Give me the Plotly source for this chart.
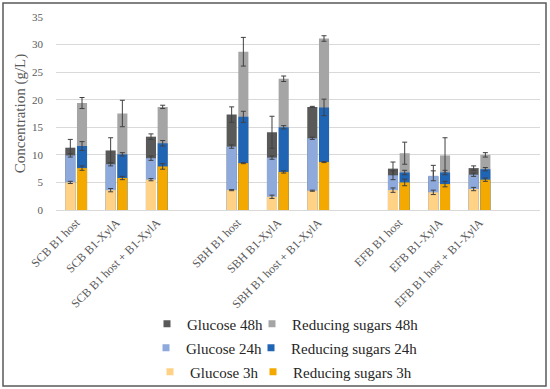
import plotly.graph_objects as go

categories = ["SCB B1 host", "SCB B1-XylA", "SCB B1 host + B1-XylA", " ",
              "SBH B1 host", "SBH B1-XylA", "SBH B1 host + B1-XylA", "  ",
              "EFB B1 host", "EFB B1-XylA", "EFB B1 host + B1-XylA"]

glucose_3h = [5.0, 3.6, 5.5, None, 3.6, 2.4, 3.5, None, 3.6, 3.2, 3.8]
glucose_3h_err = [0.2, 0.3, 0.2, None, 0.1, 0.3, 0.1, None, 0.4, 0.4, 0.3]
glucose_24h = [9.9, 8.3, 9.4, None, 11.5, 9.5, 13.0, None, 6.3, 6.2, 6.4]
glucose_24h_err = [0.3, 0.3, 0.4, None, 0.3, 0.3, 0.2, None, 0.8, 0.9, 0.3]
glucose_48h = [11.3, 10.8, 13.3, None, 17.3, 14.1, 18.7, None, 7.5, 6.1, 7.6]
glucose_48h_err = [1.5, 2.3, 0.5, None, 1.4, 2.9, 0.1, None, 1.2, 2.0, 0.4]

rs_3h = [7.6, 5.8, 7.9, None, 8.5, 6.9, 8.7, None, 5.0, 4.7, 5.5]
rs_3h_err = [0.4, 0.3, 0.5, None, 0.1, 0.2, 0.1, None, 0.6, 0.5, 0.3]
rs_24h = [11.6, 10.1, 12.1, None, 16.9, 15.0, 18.6, None, 6.8, 6.8, 7.4]
rs_24h_err = [0.8, 0.3, 0.5, None, 1.0, 0.3, 1.5, None, 0.4, 0.4, 0.3]
rs_48h = [19.4, 17.5, 18.7, None, 28.7, 23.8, 31.1, None, 10.3, 9.9, 10.0]
rs_48h_err = [1.0, 2.4, 0.3, None, 2.6, 0.5, 0.5, None, 2.0, 3.2, 0.4]

FONT = "Liberation Serif, Times New Roman, DejaVu Serif, serif"
GRAY = "#595959"
W, H = 550, 389

series = [
    # name, values, errors, color, offset, legend
    ("Glucose 48h", glucose_48h, glucose_48h_err, "#595959", -0.27, "legend"),
    ("Reducing sugars 48h", rs_48h, rs_48h_err, "#A5A5A5", 0.02, "legend2"),
    ("Glucose 24h", glucose_24h, glucose_24h_err, "#8EA9DB", -0.27, "legend3"),
    ("Reducing sugars 24h", rs_24h, rs_24h_err, "#2064B4", 0.02, "legend4"),
    ("Glucose 3h", glucose_3h, glucose_3h_err, "#FFD285", -0.27, "legend5"),
    ("Reducing sugars 3h", rs_3h, rs_3h_err, "#F4A900", 0.02, "legend6"),
]

fig = go.Figure()
for name, vals, errs, color, off, leg in series:
    fig.add_trace(go.Bar(
        x=categories, y=vals, name=name, showlegend=False,
        offset=off, width=0.25,
        marker=dict(color=color, line=dict(width=0)),
        error_y=dict(type="data", array=errs, color="#404040", thickness=1, width=2.5),
    ))
for name, vals, errs, color, off, leg in series:
    fig.add_trace(go.Scatter(
        x=[None], y=[None], mode="markers", name=name, legend=leg,
        marker=dict(symbol="square", size=7, color=color),
    ))

legend_common = dict(orientation="h", xanchor="left", yanchor="middle",
                     xref="container", yref="container",
                     font=dict(family=FONT, size=15, color="#262626"),
                     bgcolor="rgba(0,0,0,0)", itemwidth=30)

def lx(px):
    return px / W

def ly(py):
    return 1 - py / H

fig.update_layout(
    width=W, height=H,
    margin=dict(l=56, r=10, t=17, b=179, autoexpand=False),
    barmode="overlay",
    plot_bgcolor="white", paper_bgcolor="white",
    font=dict(family=FONT, color=GRAY),
    legend=dict(x=lx(147), y=ly(324), **legend_common),
    legend2=dict(x=lx(252), y=ly(324), **legend_common),
    legend3=dict(x=lx(146), y=ly(348), **legend_common),
    legend4=dict(x=lx(251), y=ly(348), **legend_common),
    legend5=dict(x=lx(150), y=ly(372), **legend_common),
    legend6=dict(x=lx(253), y=ly(372), **legend_common),
    xaxis=dict(type="category", range=[-0.5, 11.5], tickangle=-45,
               tickfont=dict(family=FONT, size=12, color=GRAY),
               showline=True, linecolor="#D9D9D9", linewidth=1,
               showgrid=False, ticks="", automargin=False),
    yaxis=dict(range=[0, 35], dtick=5, showgrid=True, gridcolor="#D9D9D9",
               gridwidth=1, zeroline=False, ticks="", ticklabelstandoff=12,
               automargin=False,
               tickfont=dict(family=FONT, size=11, color=GRAY),
               title=dict(text="Concentration (g/L)",
                          font=dict(family=FONT, size=15, color=GRAY), standoff=2)),
    shapes=[dict(type="rect", xref="paper", yref="paper",
                 x0=(3 - 56) / 484, x1=(546 - 56) / 484,
                 y0=(210 - 386) / 193, y1=(210 - 3) / 193,
                 line=dict(color="#595959", width=1.5), layer="above")],
)

fig.write_html("out.html", config={"displayModeBar": False},
               post_script="document.body.style.margin='0';")
